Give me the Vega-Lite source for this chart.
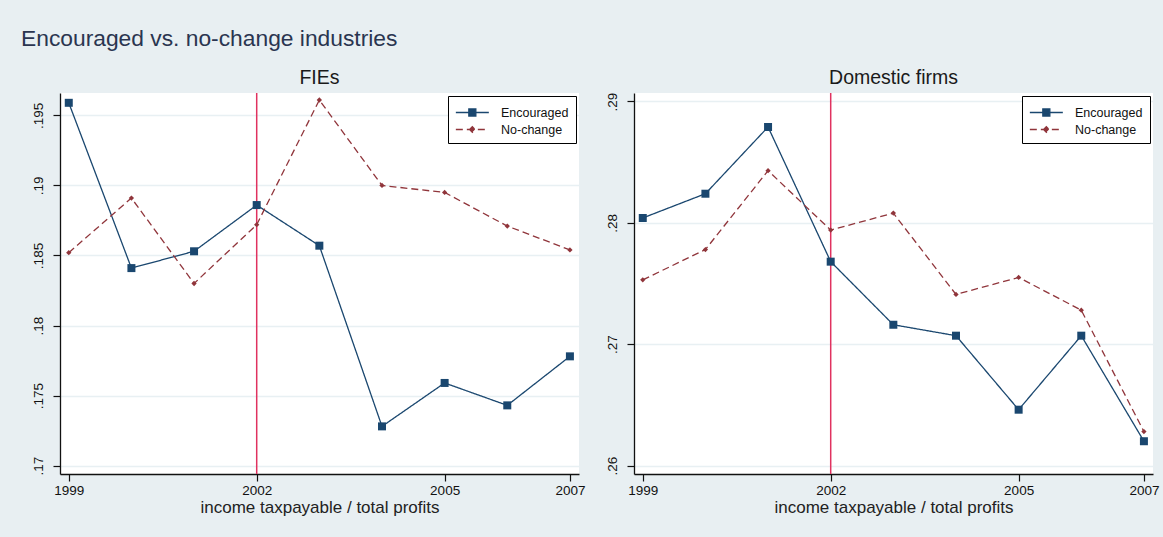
{
  "$schema": "https://vega.github.io/schema/vega-lite/v6.json",
  "background": "#e8eff2",
  "padding": {"left": 21, "top": 27, "right": 8, "bottom": 24},
  "datasets": {
    "fie": [
      {"year": 1999, "series": "Encouraged", "value": 0.1959},
      {"year": 2000, "series": "Encouraged", "value": 0.1841},
      {"year": 2001, "series": "Encouraged", "value": 0.1853},
      {"year": 2002, "series": "Encouraged", "value": 0.1886},
      {"year": 2003, "series": "Encouraged", "value": 0.1857},
      {"year": 2004, "series": "Encouraged", "value": 0.1728},
      {"year": 2005, "series": "Encouraged", "value": 0.1759},
      {"year": 2006, "series": "Encouraged", "value": 0.1743},
      {"year": 2007, "series": "Encouraged", "value": 0.1778},
      {"year": 1999, "series": "No-change", "value": 0.1852},
      {"year": 2000, "series": "No-change", "value": 0.1891},
      {"year": 2001, "series": "No-change", "value": 0.1830},
      {"year": 2002, "series": "No-change", "value": 0.1872},
      {"year": 2003, "series": "No-change", "value": 0.1961},
      {"year": 2004, "series": "No-change", "value": 0.1900},
      {"year": 2005, "series": "No-change", "value": 0.1895},
      {"year": 2006, "series": "No-change", "value": 0.1871},
      {"year": 2007, "series": "No-change", "value": 0.1854}
    ],
    "dom": [
      {"year": 1999, "series": "Encouraged", "value": 0.2804},
      {"year": 2000, "series": "Encouraged", "value": 0.2824},
      {"year": 2001, "series": "Encouraged", "value": 0.2879},
      {"year": 2002, "series": "Encouraged", "value": 0.2768},
      {"year": 2003, "series": "Encouraged", "value": 0.2716},
      {"year": 2004, "series": "Encouraged", "value": 0.2707},
      {"year": 2005, "series": "Encouraged", "value": 0.2646},
      {"year": 2006, "series": "Encouraged", "value": 0.2707},
      {"year": 2007, "series": "Encouraged", "value": 0.2620},
      {"year": 1999, "series": "No-change", "value": 0.2753},
      {"year": 2000, "series": "No-change", "value": 0.2778},
      {"year": 2001, "series": "No-change", "value": 0.2843},
      {"year": 2002, "series": "No-change", "value": 0.2794},
      {"year": 2003, "series": "No-change", "value": 0.2808},
      {"year": 2004, "series": "No-change", "value": 0.2741},
      {"year": 2005, "series": "No-change", "value": 0.2755},
      {"year": 2006, "series": "No-change", "value": 0.2728},
      {"year": 2007, "series": "No-change", "value": 0.2628}
    ],
    "policy": [{"year": 2002}]
  },
  "title": {
    "text": "Encouraged vs. no-change industries",
    "anchor": "start",
    "dx": -10,
    "font": "Liberation Sans",
    "fontSize": 22.8,
    "fontWeight": "normal",
    "color": "#2a3550",
    "offset": 17
  },
  "bounds": "flush",
  "spacing": 55,
  "resolve": {"scale": {"color": "independent", "y": "independent"}, "legend": {"color": "independent"}},
  "hconcat": [
    {
      "width": 519,
      "height": 381,
      "title": {"text": "FIEs", "font": "Liberation Sans", "fontSize": 19.5, "fontWeight": "normal", "color": "#1a1a1a", "offset": 4},
      "layer": [
        {
          "data": {"name": "policy"},
          "mark": {"type": "rule", "color": "#e0325f", "strokeWidth": 1.5},
          "encoding": {"x": {"field": "year", "type": "quantitative"}}
        },
        {
          "data": {"name": "fie"},
          "mark": {"type": "line", "strokeWidth": 1.3},
          "encoding": {
            "x": {"field": "year", "type": "quantitative"},
            "y": {"field": "value", "type": "quantitative"},
            "color": {"field": "series", "type": "nominal"},
            "strokeDash": {"field": "series", "type": "nominal", "scale": {"domain": ["Encouraged", "No-change"], "range": [[1, 0], [7, 4]]}, "legend": null}
          }
        },
        {
          "data": {"name": "fie"},
          "mark": {"type": "point", "filled": true, "opacity": 1},
          "encoding": {
            "x": {"field": "year", "type": "quantitative"},
            "y": {"field": "value", "type": "quantitative"},
            "color": {"field": "series", "type": "nominal"},
            "shape": {"field": "series", "type": "nominal", "scale": {"domain": ["Encouraged", "No-change"], "range": ["square", "diamond"]}, "legend": null},
            "size": {"field": "series", "type": "nominal", "scale": {"domain": ["Encouraged", "No-change"], "range": [64, 28]}, "legend": null}
          }
        }
      ],
      "encoding": {
        "x": {
          "type": "quantitative",
          "scale": {"domain": [1998.86, 2007.145], "nice": false, "zero": false},
          "axis": {"values": [1999, 2002, 2005, 2007], "format": "d", "title": "income taxpayable / total profits", "grid": false}
        },
        "y": {
          "type": "quantitative",
          "scale": {"domain": [0.1694, 0.1966], "nice": false, "zero": false},
          "axis": {"values": [0.17, 0.175, 0.18, 0.185, 0.19, 0.195], "labelExpr": "replace(format(datum.value, '.3~f'), '0.', '.')", "title": null}
        },
        "color": {
          "type": "nominal",
          "scale": {"domain": ["Encouraged", "No-change"], "range": ["#1a476f", "#90353b"]},
          "legend": {
            "title": null, "orient": "top-right", "offset": 3, "strokeColor": "#000", "fillColor": "white",
            "padding": 7, "rowPadding": 1, "symbolSize": 300, "labelOffset": 27,
            "labelFont": "Liberation Sans", "labelFontSize": 12.5, "labelColor": "#111",
            "encode": {
              "labels": {"update": {"text": {"signal": "datum.label + '\u2003\u2003'"}}},
              "symbols": {"update": {
              "shape": {"signal": "datum.value === 'Encouraged' ? 'M-1,0L2.81,0M0.5,-0.404L1.31,-0.404L1.31,0.404L0.5,0.404Z' : 'M-1,0L2.81,0M0.585,0L0.905,-0.32L1.225,0L0.905,0.32Z'"},
              "fill": {"signal": "datum.value === 'Encouraged' ? '#1a476f' : '#90353b'"},
              "stroke": {"signal": "datum.value === 'Encouraged' ? '#1a476f' : '#90353b'"},
              "strokeDash": {"signal": "datum.value === 'Encouraged' ? [1,0] : [7,4]"},
              "strokeWidth": {"value": 1.3},
              "size": {"value": 300},
              "opacity": {"value": 1}
            }}}
          }
        }
      }
    },
    {
      "width": 519,
      "height": 381,
      "title": {"text": "Domestic firms", "font": "Liberation Sans", "fontSize": 19.5, "fontWeight": "normal", "color": "#1a1a1a", "offset": 4},
      "layer": [
        {
          "data": {"name": "policy"},
          "mark": {"type": "rule", "color": "#e0325f", "strokeWidth": 1.5},
          "encoding": {"x": {"field": "year", "type": "quantitative"}}
        },
        {
          "data": {"name": "dom"},
          "mark": {"type": "line", "strokeWidth": 1.3},
          "encoding": {
            "x": {"field": "year", "type": "quantitative"},
            "y": {"field": "value", "type": "quantitative"},
            "color": {"field": "series", "type": "nominal"},
            "strokeDash": {"field": "series", "type": "nominal", "scale": {"domain": ["Encouraged", "No-change"], "range": [[1, 0], [7, 4]]}, "legend": null}
          }
        },
        {
          "data": {"name": "dom"},
          "mark": {"type": "point", "filled": true, "opacity": 1},
          "encoding": {
            "x": {"field": "year", "type": "quantitative"},
            "y": {"field": "value", "type": "quantitative"},
            "color": {"field": "series", "type": "nominal"},
            "shape": {"field": "series", "type": "nominal", "scale": {"domain": ["Encouraged", "No-change"], "range": ["square", "diamond"]}, "legend": null},
            "size": {"field": "series", "type": "nominal", "scale": {"domain": ["Encouraged", "No-change"], "range": [64, 28]}, "legend": null}
          }
        }
      ],
      "encoding": {
        "x": {
          "type": "quantitative",
          "scale": {"domain": [1998.86, 2007.145], "nice": false, "zero": false},
          "axis": {"values": [1999, 2002, 2005, 2007], "format": "d", "title": "income taxpayable / total profits", "grid": false}
        },
        "y": {
          "type": "quantitative",
          "scale": {"domain": [0.2593, 0.2907], "nice": false, "zero": false},
          "axis": {"values": [0.26, 0.27, 0.28, 0.29], "labelExpr": "replace(format(datum.value, '.2~f'), '0.', '.')", "title": null}
        },
        "color": {
          "type": "nominal",
          "scale": {"domain": ["Encouraged", "No-change"], "range": ["#1a476f", "#90353b"]},
          "legend": {
            "title": null, "orient": "top-right", "offset": 3, "strokeColor": "#000", "fillColor": "white",
            "padding": 7, "rowPadding": 1, "symbolSize": 300, "labelOffset": 27,
            "labelFont": "Liberation Sans", "labelFontSize": 12.5, "labelColor": "#111",
            "encode": {
              "labels": {"update": {"text": {"signal": "datum.label + '\u2003\u2003'"}}},
              "symbols": {"update": {
              "shape": {"signal": "datum.value === 'Encouraged' ? 'M-1,0L2.81,0M0.5,-0.404L1.31,-0.404L1.31,0.404L0.5,0.404Z' : 'M-1,0L2.81,0M0.585,0L0.905,-0.32L1.225,0L0.905,0.32Z'"},
              "fill": {"signal": "datum.value === 'Encouraged' ? '#1a476f' : '#90353b'"},
              "stroke": {"signal": "datum.value === 'Encouraged' ? '#1a476f' : '#90353b'"},
              "strokeDash": {"signal": "datum.value === 'Encouraged' ? [1,0] : [7,4]"},
              "strokeWidth": {"value": 1.3},
              "size": {"value": 300},
              "opacity": {"value": 1}
            }}}
          }
        }
      }
    }
  ],
  "config": {
    "view": {"stroke": null, "fill": "white"},
    "axis": {
      "labelFont": "Liberation Sans", "labelFontSize": 13.5, "labelColor": "#111",
      "titleFont": "Liberation Sans", "titleFontSize": 17, "titleFontWeight": "normal", "titleColor": "#222",
      "domainColor": "#111", "domainWidth": 1.3, "tickColor": "#111", "tickWidth": 1.2, "tickSize": 7,
      "gridColor": "#e8f0f3", "gridWidth": 1.5
    },
    "axisX": {"labelPadding": 2, "titlePadding": 3, "labelFlush": false},
    "axisY": {"labelAngle": -90, "labelAlign": "center", "labelBaseline": "bottom", "labelPadding": 8, "grid": true}
  }
}
